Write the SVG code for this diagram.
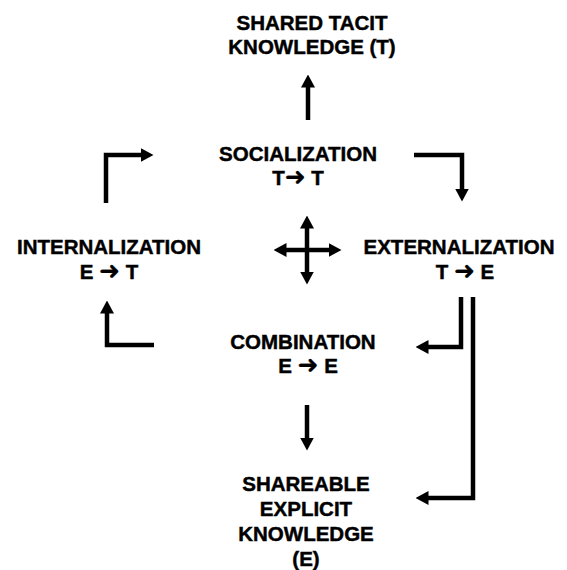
<svg xmlns="http://www.w3.org/2000/svg" width="567" height="570" viewBox="0 0 567 570">
  <style>
    .lbl { font-family: "Liberation Sans", Arial, sans-serif; font-weight: bold; font-size: 20.5px; fill: #000; stroke: #000; stroke-width: 0.45; text-anchor: middle; }
    .arw { font-family: "DejaVu Sans", sans-serif; font-weight: bold; font-size: 25px; stroke-width: 0.3; }
    .conn { fill: none; stroke: #000; stroke-width: 4.5; stroke-linejoin: miter; stroke-linecap: butt; }
  </style>
  <defs>
    <marker id="head" viewBox="0 0 13 14" refX="0.5" refY="7" markerWidth="13" markerHeight="14" markerUnits="userSpaceOnUse" orient="auto-start-reverse">
      <path d="M0,0 L13,7 L0,14 z" fill="#000"/>
    </marker>
  </defs>
  <rect width="567" height="570" fill="#fff"/>

  <g id="shared-tacit">
    <text class="lbl" x="312" y="30">SHARED TACIT</text>
    <text class="lbl" x="312" y="54">KNOWLEDGE (T)</text>
  </g>
  <g id="socialization">
    <text class="lbl" x="298" y="161">SOCIALIZATION</text>
    <text class="lbl" x="298" y="185">T<tspan class="arw">➜</tspan> T</text>
  </g>
  <g id="internalization">
    <text class="lbl" x="109" y="254">INTERNALIZATION</text>
    <text class="lbl" x="109" y="279">E <tspan class="arw">➜</tspan> T</text>
  </g>
  <g id="externalization">
    <text class="lbl" x="459" y="254">EXTERNALIZATION</text>
    <text class="lbl" x="465" y="279">T <tspan class="arw">➜</tspan> E</text>
  </g>
  <g id="combination">
    <text class="lbl" x="303" y="349">COMBINATION</text>
    <text class="lbl" x="308" y="373">E <tspan class="arw">➜</tspan> E</text>
  </g>
  <g id="shareable-explicit">
    <text class="lbl" x="306" y="491">SHAREABLE</text>
    <text class="lbl" x="306" y="516">EXPLICIT</text>
    <text class="lbl" x="306" y="541">KNOWLEDGE</text>
    <text class="lbl" x="306" y="566">(E)</text>
  </g>

  <g id="connectors">
    <!-- socialization up to shared tacit knowledge -->
    <path class="conn" d="M308,120 V87" marker-end="url(#head)"/>
    <!-- cycle around the four modes -->
    <path class="conn" d="M106,203 V155 H141" marker-end="url(#head)"/>
    <path class="conn" d="M414,155 H462 V189" marker-end="url(#head)"/>
    <path class="conn" d="M461,297 V347 H428" marker-end="url(#head)"/>
    <path class="conn" d="M154,345 H107 V313" marker-end="url(#head)"/>
    <!-- central four-way cross -->
    <path class="conn" d="M307,228 V272" marker-start="url(#head)" marker-end="url(#head)"/>
    <path class="conn" d="M286,250 H329" marker-start="url(#head)" marker-end="url(#head)"/>
    <!-- down to shareable explicit knowledge -->
    <path class="conn" d="M307,405 V438" marker-end="url(#head)"/>
    <path class="conn" d="M473,297 V498 H428" marker-end="url(#head)"/>
  </g>
</svg>
